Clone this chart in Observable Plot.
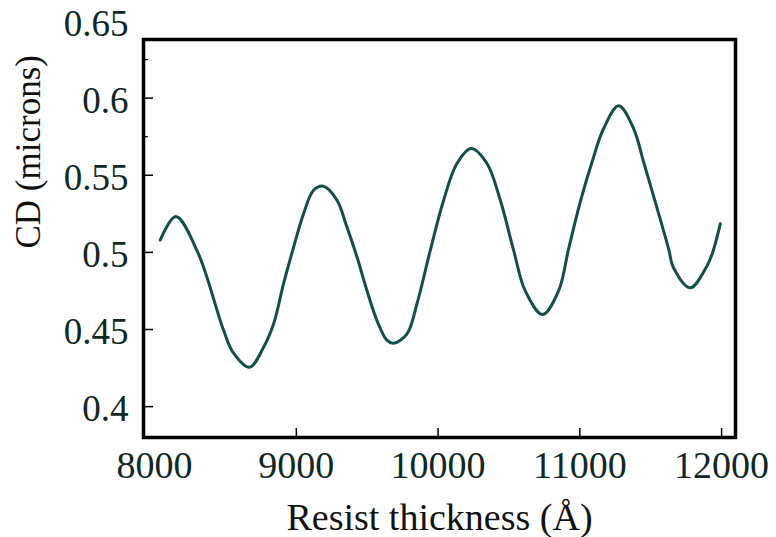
<!DOCTYPE html>
<html><head><meta charset="utf-8">
<script src="https://cdn.jsdelivr.net/npm/d3@7"></script>
<script src="https://cdn.jsdelivr.net/npm/@observablehq/plot@0.6"></script>
<style>body{margin:0;background:#fff} #chart{width:776px;height:537px} svg text{font-family:"Liberation Serif","Times New Roman",serif !important}</style>
</head><body><div id="chart"></div>
<script>
const thickness = [8040, 8150, 8305, 8485, 8555, 8670, 8769, 8840, 8910, 8981, 9051, 9122, 9192, 9287, 9357, 9428, 9498, 9569, 9640, 9686, 9781, 9851, 9945, 10039, 10133, 10234, 10345, 10439, 10533, 10615, 10737, 10850, 10921, 11003, 11086, 11168, 11274, 11379, 11450, 11532, 11626, 11661, 11779, 11890, 11937, 11991];
const cd = [0.508, 0.5232, 0.500, 0.450, 0.435, 0.4255, 0.4385, 0.4537, 0.4797, 0.5034, 0.5251, 0.5403, 0.5429, 0.5338, 0.5164, 0.497, 0.4753, 0.4558, 0.4429, 0.4411, 0.4472, 0.4667, 0.5013, 0.5338, 0.5576, 0.5673, 0.5576, 0.5338, 0.5013, 0.475, 0.4597, 0.475, 0.5024, 0.5327, 0.5586, 0.5803, 0.595, 0.5803, 0.5586, 0.5327, 0.5024, 0.490, 0.477, 0.490, 0.500, 0.5186];
const xTickLabels = [8000, 9000, 10000, 11000, 12000];
const xTickMarks = [9000, 10000, 11000, 12000];
const yTickLabels = [0.4, 0.45, 0.5, 0.55, 0.6, 0.65];
const yTickMajor = [0.4, 0.45, 0.5, 0.55, 0.6];
const yTickMinor = [0.575, 0.625];
const xTitle = "Resist thickness (Å)";
const yTitle = "CD (microns)";

const data = thickness.map((t, i) => ({t, cd: cd[i]}));
const serif = "'Liberation Serif', 'Times New Roman', serif";

const plot = Plot.plot({
  width: 776, height: 537,
  marginLeft: 143, marginRight: 41, marginTop: 39, marginBottom: 100,
  x: {domain: [7922, 12098], axis: null},
  y: {domain: [0.38, 0.638], axis: null},
  style: {fontFamily: serif, background: "white", color: "black"},
  marks: [
    Plot.line(data, {x: "t", y: "cd", curve: "catmull-rom", stroke: "#124f4b", strokeWidth: 3}),
    Plot.axisX(xTickMarks, {tickSize: -9, fill: "none", strokeWidth: 1.5}),
    Plot.axisY(yTickMajor, {tickSize: -10, fill: "none", strokeWidth: 1.5}),
    Plot.axisY(yTickMinor, {tickSize: -5, fill: "none", strokeWidth: 1.2}),
    Plot.text(xTickLabels, {x: d => d, text: d => String(d), frameAnchor: "bottom", lineAnchor: "top", dy: 14, fontSize: 38, fontFamily: serif, fill: "#0f2826"}),
    Plot.text(yTickLabels, {y: d => d, text: d => String(d), frameAnchor: "left", textAnchor: "end", lineAnchor: "middle", dx: -15, dy: 3, fontSize: 37, fontFamily: serif, fill: "#0f2826"}),
    Plot.text([xTitle], {text: d => d, frameAnchor: "bottom", lineAnchor: "middle", dy: 80, fontSize: 38, fontFamily: serif, fill: "#111"}),
    Plot.text([yTitle], {text: d => d, frameAnchor: "left", lineAnchor: "middle", rotate: -90, dx: -115, dy: 10, fontSize: 35, fontFamily: serif, fill: "#111"}),
    Plot.frame({stroke: "black", strokeWidth: 3.5})
  ]
});
document.getElementById("chart").appendChild(plot);
</script>
</body></html>
